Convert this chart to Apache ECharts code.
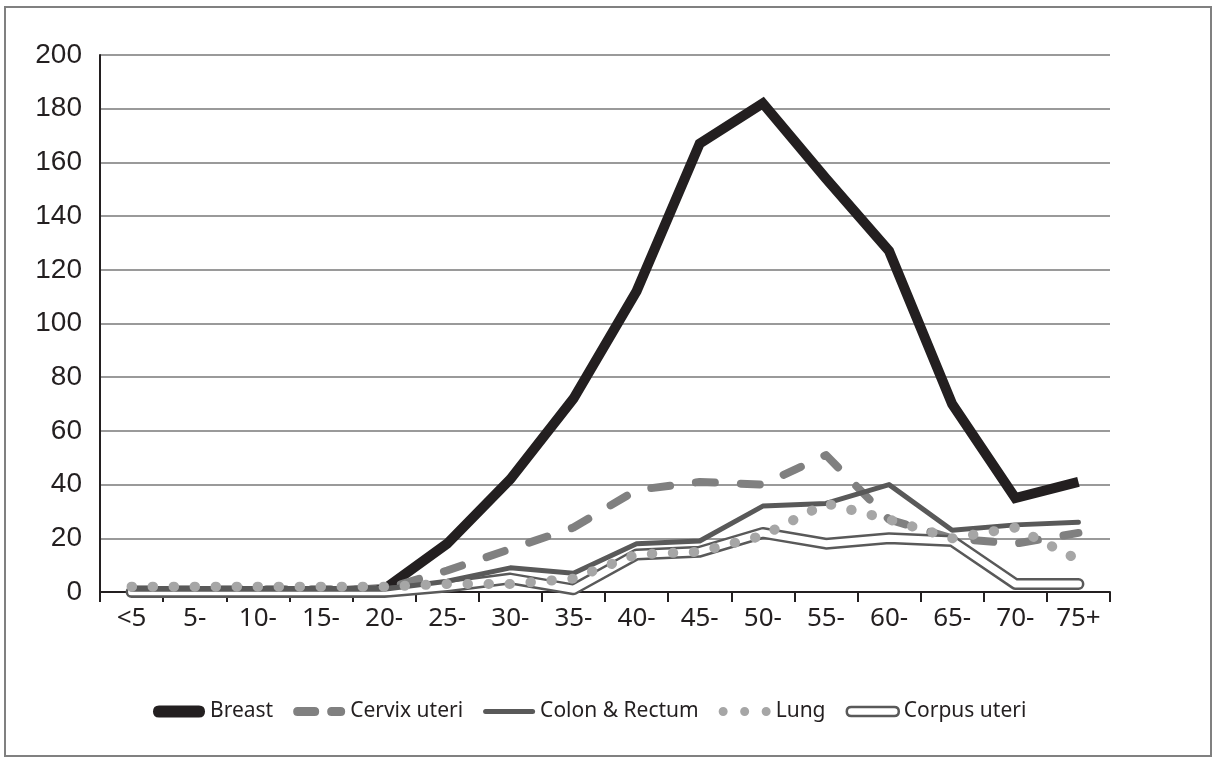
<!DOCTYPE html>
<html>
<head>
<meta charset="utf-8">
<script src="https://cdn.jsdelivr.net/npm/echarts@6/dist/echarts.min.js"></script>
<style>
  html, body { margin: 0; padding: 0; background: #fff; }
  #chart { width: 1214px; height: 760px; }
</style>
</head>
<body>
<div id="chart"></div>
<script>
// age groups on the x axis
var ageGroups = ['<5', '5-', '10-', '15-', '20-', '25-', '30-', '35-', '40-', '45-', '50-', '55-', '60-', '65-', '70-', '75+'];

// values
var breast     = [0, 0, 0, 0, 1, 18, 42, 72, 112, 167, 182, 154, 127, 70, 35, 41];
var cervix     = [1, 1, 1, 1, 1, 8, 16, 24, 38, 41, 40, 51, 27, 20, 18, 22];
var colon      = [1, 1, 1, 1, 1, 4, 9, 7, 18, 19, 32, 33, 40, 23, 25, 26];
var lung       = [2, 2, 2, 2, 2, 3, 3, 5, 14, 15, 21, 33, 27, 20, 24, 12];
var corpus     = [0, 0, 0, 0, 0, 2, 5, 1, 14, 15, 22, 18, 20, 19, 3, 3];

var chart = echarts.init(document.getElementById('chart'));

// legend icons drawn as paths so they look like the line styles
var pill = 'path://M6,0H46Q52,0 52,6Q52,12 46,12H6Q0,12 0,6Q0,0 6,0Z';
var dashIcon = 'path://M4.5,0H21.5Q26,0 26,4.5Q26,9 21.5,9H4.5Q0,9 0,4.5Q0,0 4.5,0Z' +
               'M38.5,0H47.5Q52,0 52,4.5Q52,9 47.5,9H38.5Q34,9 34,4.5Q34,0 38.5,0Z';
var thinPill = 'path://M2.5,0H49.5Q52,0 52,2.5Q52,5 49.5,5H2.5Q0,5 0,2.5Q0,0 2.5,0Z';
var dotsIcon = 'path://M0,4.5A4.5,4.5 0 1 0 9,4.5A4.5,4.5 0 1 0 0,4.5Z' +
               'M21.5,4.5A4.5,4.5 0 1 0 30.5,4.5A4.5,4.5 0 1 0 21.5,4.5Z' +
               'M43,4.5A4.5,4.5 0 1 0 52,4.5A4.5,4.5 0 1 0 43,4.5Z';
var outlinePill = 'path://M4.5,0H47.5Q52,0 52,4.5Q52,9 47.5,9H4.5Q0,9 0,4.5Q0,0 4.5,0Z';

chart.setOption({
  animation: false,
  backgroundColor: '#fff',
  graphic: [{
    type: 'rect',
    shape: { x: 5, y: 7, width: 1206, height: 749 },
    style: { fill: 'none', stroke: '#808080', lineWidth: 2 },
    silent: true
  }],
  grid: { left: 100, right: 104, top: 55, bottom: 168 },
  legend: {
    left: 148,
    top: 696,
    itemWidth: 52,
    itemHeight: 12,
    itemGap: 20,
    textStyle: { fontFamily: 'Noto Sans', fontSize: 21, color: '#231f20' },
    data: [
      { name: 'Breast', icon: pill, itemStyle: { color: '#231f20', borderWidth: 0 } },
      { name: 'Cervix uteri', icon: dashIcon, itemStyle: { color: '#808080', borderWidth: 0 } },
      { name: 'Colon & Rectum', icon: thinPill, itemStyle: { color: '#595959', borderWidth: 0 } },
      { name: 'Lung', icon: dotsIcon, itemStyle: { color: '#a6a6a6', borderWidth: 0 } },
      { name: 'Corpus uteri', icon: outlinePill, itemStyle: { color: '#ffffff', borderColor: '#595959', borderWidth: 2.5 } }
    ]
  },
  xAxis: {
    type: 'category',
    data: ageGroups,
    boundaryGap: true,
    axisLine: { lineStyle: { color: '#231f20', width: 2 } },
    axisTick: { show: true, length: 10, lineStyle: { color: '#231f20', width: 2 } },
    axisLabel: { fontFamily: 'Noto Sans', fontSize: 26, color: '#231f20', margin: 14, interval: 0 },
    splitLine: { show: false }
  },
  yAxis: {
    type: 'value',
    min: 0,
    max: 200,
    interval: 20,
    axisLine: { show: true, lineStyle: { color: '#231f20', width: 2 } },
    axisTick: { show: false },
    axisLabel: { fontFamily: 'Liberation Sans', fontSize: 28, color: '#231f20', margin: 18 },
    splitLine: { lineStyle: { color: '#9a9a9a', width: 2 } }
  },
  series: [
    {
      name: 'Breast', type: 'line', data: breast, symbol: 'none', z: 2,
      lineStyle: { color: '#231f20', width: 10, join: 'miter' },
      itemStyle: { color: '#231f20' }
    },
    {
      name: 'Cervix uteri', type: 'line', data: cervix, symbol: 'none', z: 3,
      lineStyle: { color: '#808080', width: 8, type: [19, 26], cap: 'round', join: 'round' },
      itemStyle: { color: '#808080' }
    },
    {
      // double line: dark outer stroke with a white line on top
      name: 'Corpus uteri', type: 'line', data: corpus, symbol: 'none', z: 4,
      lineStyle: { color: '#595959', width: 12, cap: 'round', join: 'round' },
      itemStyle: { color: '#595959' }
    },
    {
      name: 'Corpus uteri', type: 'line', data: corpus, symbol: 'none', z: 5,
      lineStyle: { color: '#ffffff', width: 7, cap: 'round', join: 'round' },
      itemStyle: { color: '#ffffff' }
    },
    {
      name: 'Colon & Rectum', type: 'line', data: colon, symbol: 'none', z: 6,
      lineStyle: { color: '#595959', width: 5, cap: 'round', join: 'round' },
      itemStyle: { color: '#595959' }
    },
    {
      name: 'Lung', type: 'line', data: lung, symbol: 'none', z: 7,
      lineStyle: { color: '#a6a6a6', width: 10, type: [0.5, 20.5], cap: 'round' },
      itemStyle: { color: '#a6a6a6' }
    }
  ]
});
</script>
</body>
</html>
